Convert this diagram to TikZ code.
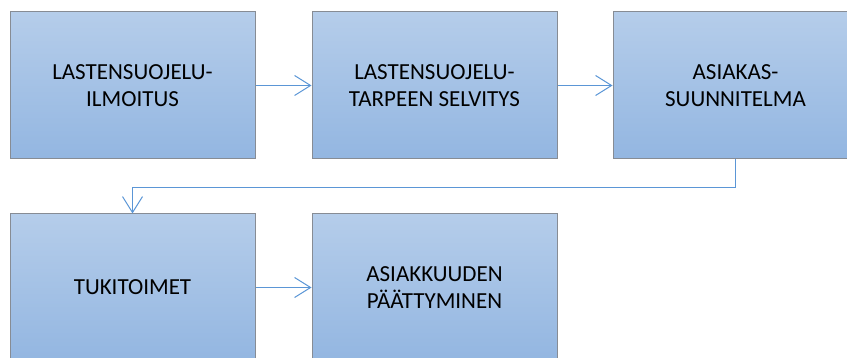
\documentclass[tikz,border=0pt]{standalone}
\usepackage{fontspec}
\setmainfont{Carlito}
\usetikzlibrary{arrows.meta}
\definecolor{boxtop}{RGB}{181,205,234}
\definecolor{boxbot}{RGB}{147,182,225}
\definecolor{boxline}{RGB}{135,140,148}
\definecolor{arrowblue}{RGB}{91,150,214}
\tikzset{
  stepbox/.style={rectangle, draw=boxline, line width=1pt,
    top color=boxtop, bottom color=boxbot,
    minimum width=245pt, minimum height=147pt, inner sep=0pt,
    align=center, text=black,
    font=\fontsize{23}{27.5}\selectfont},
  flow/.style={draw=arrowblue, line width=1pt,
    -{Straight Barb[length=16pt,width=20pt,line width=1pt]}}
}
\begin{document}
\begin{tikzpicture}[x=1pt,y=-1pt]
\useasboundingbox (0,0) rectangle (847,358);
\clip (0,0) rectangle (847,358);
\node[stepbox] (b1) at (132.5,85.5) {LASTENSUOJELU-\\ILMOITUS};
\node[stepbox] (b2) at (434.5,85.5) {LASTENSUOJELU-\\TARPEEN SELVITYS};
\node[stepbox] (b3) at (735.5,85.5) {ASIAKAS-\\SUUNNITELMA};
\node[stepbox] (b4) at (132.5,287.5) {TUKITOIMET};
\node[stepbox] (b5) at (434.5,287.5) {ASIAKKUUDEN\\PÄÄTTYMINEN};
\draw[flow] (b1) -- (b2);
\draw[flow] (b2) -- (b3);
\draw[flow] (b3.south) -- ++(0,28) -| (b4.north);
\draw[flow] (b4) -- (b5);
\end{tikzpicture}
\end{document}
